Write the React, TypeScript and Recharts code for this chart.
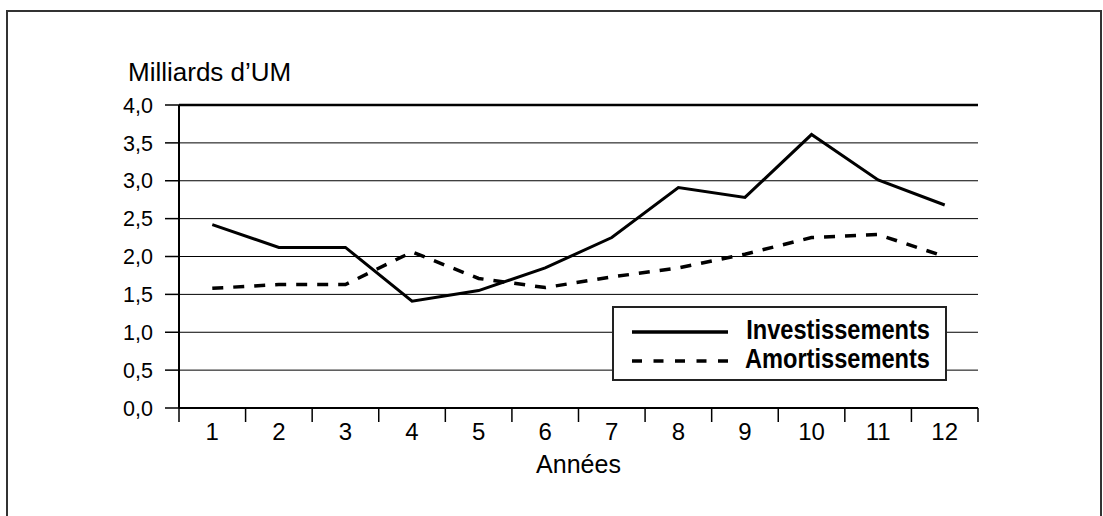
import {
  LineChart,
  Line,
  XAxis,
  YAxis,
  CartesianGrid,
  Legend,
  ReferenceLine,
} from "recharts";

const years = [1, 2, 3, 4, 5, 6, 7, 8, 9, 10, 11, 12];
const investissements = [2.42, 2.12, 2.12, 1.41, 1.55, 1.85, 2.25, 2.91, 2.78, 3.61, 3.01, 2.68];
const amortissements = [1.58, 1.63, 1.63, 2.06, 1.71, 1.59, 1.73, 1.85, 2.03, 2.25, 2.29, 2.0];
const yTicks = [0, 0.5, 1, 1.5, 2, 2.5, 3, 3.5, 4];
const seriesNames = ["Investissements", "Amortissements"];
const yTitle = "Milliards d\u2019UM";
const xTitle = "Années";

const data = years.map((year, i) => ({
  year,
  [seriesNames[0]]: investissements[i],
  [seriesNames[1]]: amortissements[i],
}));

// ticks at each category centre (label) and at each boundary (tick mark)
const edges = [...years.map((y) => y - 0.5), years[years.length - 1] + 0.5];
const xTicks = [...edges, ...years].sort((a, b) => a - b);

const FONT = "'Liberation Sans', Arial, sans-serif";

function YearTick(props: any) {
  const { x, y, payload } = props;
  const v = payload.value as number;
  if (!Number.isInteger(v)) {
    return <line x1={x} x2={x} y1={y} y2={y + 14} stroke="#000" strokeWidth={1.5} />;
  }
  return (
    <text x={x} y={y + 32} textAnchor="middle" fontSize={24} fontFamily={FONT} fill="#000">
      {v}
    </text>
  );
}

function LegendBox(props: any) {
  const items = [...(props.payload || [])].sort(
    (a: any, b: any) => seriesNames.indexOf(a.value) - seriesNames.indexOf(b.value)
  );
  return (
    <div
      style={{
        width: 335,
        height: 75,
        boxSizing: "border-box",
        border: "2px solid #222",
        background: "#fff",
      }}
    >
      <svg width={331} height={71} style={{ display: "block" }}>
        {items.map((item: any, i: number) => {
          const cy = 24 + i * 29;
          const dash = item.payload?.strokeDasharray;
          return (
            <g key={item.value}>
              <line
                x1={18}
                x2={114}
                y1={cy}
                y2={cy}
                stroke="#000"
                strokeWidth={3.5}
                strokeDasharray={dash ? "10 11.5" : undefined}
              />
              {/* condensed look: squeeze the bold face horizontally */}
              <text
                transform={`translate(316 ${cy + 7}) scale(0.875 1)`}
                textAnchor="end"
                fontFamily={FONT}
                fontWeight="bold"
                fontSize={27}
                fill="#000"
              >
                {item.value}
              </text>
            </g>
          );
        })}
      </svg>
    </div>
  );
}

export default function App() {
  return (
    <div
      style={{
        position: "fixed",
        left: 0,
        top: 0,
        width: 1103,
        height: 516,
        overflow: "hidden",
        background: "#fff",
        fontFamily: FONT,
      }}
    >
      <div
        style={{
          position: "absolute",
          left: 128,
          top: 59,
          fontSize: 26,
          lineHeight: "26px",
          color: "#000",
          whiteSpace: "nowrap",
        }}
      >
        {yTitle}
      </div>
      <div style={{ position: "absolute", left: 0, top: 0 }}>
        <LineChart
          width={1103}
          height={516}
          data={data}
          margin={{ top: 105, right: 125, bottom: 0, left: 0 }}
          style={{ fontFamily: FONT }}
        >
          <CartesianGrid vertical={false} stroke="#000" strokeWidth={1} />
          <XAxis
            dataKey="year"
            type="number"
            domain={[0.5, 12.5]}
            ticks={xTicks}
            interval={0}
            tick={<YearTick />}
            tickLine={false}
            tickSize={0}
            tickMargin={0}
            height={108}
            axisLine={{ stroke: "#000", strokeWidth: 2 }}
            label={{
              value: xTitle,
              position: "insideBottom",
              offset: 43,
              fontSize: 25,
              fill: "#000",
              fontFamily: FONT,
            }}
          />
          <YAxis
            domain={[0, 4]}
            ticks={yTicks}
            interval={0}
            width={179}
            tickSize={14}
            tickMargin={12}
            tickFormatter={(v: number) => v.toFixed(1).replace(".", ",")}
            tick={{ fontSize: 21.5, fill: "#000", fontFamily: FONT }}
            tickLine={{ stroke: "#000", strokeWidth: 1.5 }}
            axisLine={{ stroke: "#000", strokeWidth: 2 }}
          />
          <YAxis
            yAxisId="edge"
            orientation="right"
            domain={[0, 4]}
            width={0}
            tick={false}
            tickLine={false}
            axisLine={{ stroke: "#000", strokeWidth: 1.5 }}
          />
          <ReferenceLine y={4} stroke="#000" strokeWidth={2.5} />
          <Legend
            layout="vertical"
            align="center"
            verticalAlign="middle"
            content={<LegendBox />}
            wrapperStyle={{ left: 612, top: 306, width: 335, height: 75 }}
          />
          <Line
            type="linear"
            dataKey={seriesNames[0]}
            stroke="#000"
            strokeWidth={3}
            dot={false}
            activeDot={false}
            isAnimationActive={false}
          />
          <Line
            type="linear"
            dataKey={seriesNames[1]}
            stroke="#000"
            strokeWidth={3.5}
            strokeDasharray="11 10"
            dot={false}
            activeDot={false}
            isAnimationActive={false}
          />
        </LineChart>
      </div>
      <svg
        width={1103}
        height={516}
        style={{ position: "absolute", left: 0, top: 0, pointerEvents: "none" }}
      >
        <rect x={7} y={11} width={1094} height={600} fill="none" stroke="#333" strokeWidth={2} />
      </svg>
    </div>
  );
}
